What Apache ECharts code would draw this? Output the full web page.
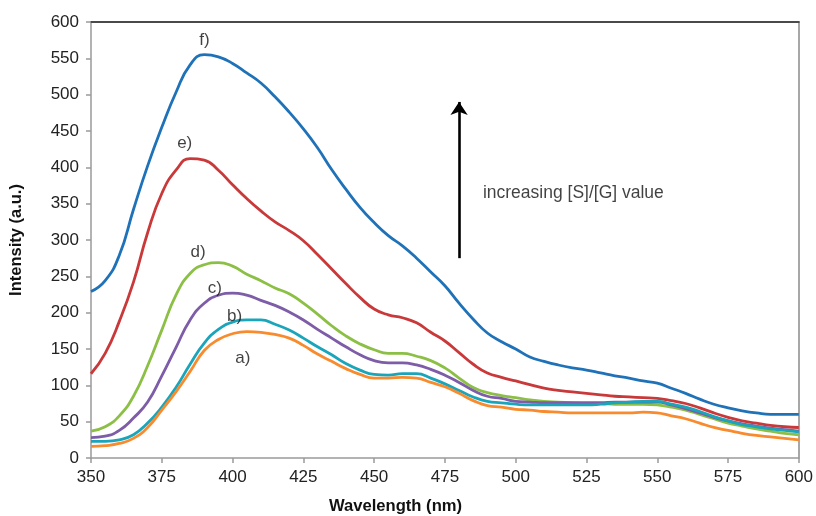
<!DOCTYPE html>
<html><head><meta charset="utf-8">
<script src="https://cdn.jsdelivr.net/npm/echarts@6/dist/echarts.min.js"></script>
<style>html,body{margin:0;padding:0;background:#fff}#c{width:816px;height:516px}</style>
</head><body><div id="c"></div>
<script>
const wavelengths = [350,355,360,365,370,375,380,385,390,395,400,405,410,415,420,425,430,435,440,445,450,455,460,465,470,475,480,485,490,495,500,505,510,515,520,525,530,535,540,545,550,555,560,565,570,575,580,585,590,595,600];
const seriesA = [16,17,20,27,42,66,91,119,148,163, 171,174,173,170,165,155,143,133,123,115, 110,110,111,110,104,98,89,79,72,70, 67,66,64,63,62,62,62,62,62,63, 62,58,54,48,42,38,34,31,29,27, 25];
const seriesB = [23,23,25,32,48,70,97,129,158,177, 187,190,190,184,176,165,153,142,130,121, 115,114,116,116,110,102,93,84,78,76, 74,73,73,73,73,73,74,76,77,78, 78,74,70,64,57,51,46,43,40,38, 36];
const seriesC = [28,30,38,55,77,113,152,190,213,224, 227,224,217,210,201,190,177,165,153,142, 134,131,131,128,122,114,104,93,85,82, 78,77,76,76,76,76,76,77,77,77, 77,73,68,62,56,51,47,44,41,39, 37];
const seriesD = [37,43,58,85,127,176,224,254,266,269, 264,253,244,234,226,213,198,182,168,157, 149,144,144,140,134,124,110,97,90,86, 83,80,78,77,76,75,75,74,74,74, 73,70,66,60,54,48,44,40,37,34, 32];
const seriesE = [116,144,188,242,310,364,396,412,410,396, 376,357,340,325,313,299,280,260,240,221, 205,197,193,186,173,161,145,129,117,111, 106,101,96,93,91,89,87,85,84,83, 82,79,75,69,62,56,51,48,45,43, 42];
const seriesF = [229,244,279,342,402,455,503,541,555,552, 543,530,516,497,476,453,427,397,370,345, 324,306,292,275,256,237,213,191,172,160, 150,139,133,128,124,121,117,113,110,106, 103,96,89,81,74,69,65,62,60,60, 60];
const curveNames = ['f)','e)','d)','c)','b)','a)'];
const labelX = [390.1, 383.1, 387.8, 393.7, 400.7, 403.6];
const labelY = [575, 433, 282.5, 233.5, 194.5, 137];
const arrowX = 480, arrowFrom = 275, arrowTo = 490;
const noteText = 'increasing [S]/[G] value';
const noteX = 488.4, noteY = 365;
const yTicks = {min:0, max:600, step:50};
const xTicks = {min:350, max:600, step:25};

const colors = ['#1f72b8','#c9393a','#8cbf45','#7d5ca8','#1aa5ba','#f78b2d'];
const allSeries = [seriesF, seriesE, seriesD, seriesC, seriesB, seriesA];
const font = '"Liberation Sans", Arial, sans-serif';

const series = allSeries.map((vals, i) => ({
  type: 'line', name: curveNames[i], smooth: 0.5, showSymbol: false, symbol: 'none',
  data: wavelengths.map((w, k) => [w, vals[k]]),
  lineStyle: {color: colors[i], width: 2.8}, itemStyle: {color: colors[i]},
  silent: true, z: 2 + i
}));
series.push({
  type: 'scatter', symbolSize: 0.1, itemStyle: {color: 'transparent'}, silent: true, z: 20,
  data: curveNames.map((n, i) => [labelX[i], labelY[i], n]),
  label: {show: true, position: 'inside', formatter: p => p.value[2], color: '#111', fontSize: 17, fontFamily: font}
});
series.push({
  type: 'scatter', symbolSize: 0.1, itemStyle: {color: 'transparent'}, silent: true, z: 20,
  data: [[noteX, noteY, noteText]],
  label: {show: true, position: 'right', distance: 0, formatter: p => p.value[2], color: '#111', fontSize: 17.5, fontFamily: font},
  markLine: {
    silent: true, animation: false, symbol: ['none', 'arrow'], symbolSize: 13,
    label: {show: false},
    lineStyle: {color: '#000', width: 2.6, type: 'solid'},
    data: [[{coord: [arrowX, arrowFrom]}, {coord: [arrowX, arrowTo]}]]
  }
});

const chart = echarts.init(document.getElementById('c'), null, {renderer: 'canvas'});
chart.setOption({
  animation: false,
  backgroundColor: '#fff',
  grid: {left: 91, right: 15, top: 22, bottom: 58, containLabel: false},
  xAxis: [{
    type: 'value', min: xTicks.min, max: xTicks.max, interval: xTicks.step,
    axisLine: {show: true, onZero: false, lineStyle: {color: '#9a9a9a', width: 1.5}},
    axisTick: {show: true, inside: false, length: 5, lineStyle: {color: '#9a9a9a', width: 1.5}},
    splitLine: {show: false},
    axisLabel: {color: '#222', fontSize: 17, fontFamily: font, margin: 11}
  }, {
    type: 'value', position: 'top', min: xTicks.min, max: xTicks.max,
    axisLine: {show: true, onZero: false, lineStyle: {color: '#4a4a4a', width: 2}},
    axisTick: {show: false}, axisLabel: {show: false}, splitLine: {show: false}
  }],
  yAxis: [{
    type: 'value', min: yTicks.min, max: yTicks.max, interval: yTicks.step,
    name: 'Intensity (a.u.)', nameLocation: 'middle', nameGap: 66,
    nameTextStyle: {fontSize: 16.5, fontWeight: 'bold', color: '#111', fontFamily: font},
    axisLine: {show: true, onZero: false, lineStyle: {color: '#9a9a9a', width: 1.5}},
    axisTick: {show: true, inside: false, length: 5, lineStyle: {color: '#9a9a9a', width: 1.5}},
    splitLine: {show: false},
    axisLabel: {color: '#222', fontSize: 17, fontFamily: font, margin: 12}
  }, {
    type: 'value', position: 'right', min: yTicks.min, max: yTicks.max,
    axisLine: {show: true, onZero: false, lineStyle: {color: '#8a8a8a', width: 1.5}},
    axisTick: {show: false}, axisLabel: {show: false}, splitLine: {show: false}
  }],
  graphic: [{
    type: 'text', left: 329, top: 498, silent: true,
    style: {text: 'Wavelength (nm)', fontSize: 16.6, fontWeight: 'bold', fill: '#111', fontFamily: font}
  }],
  series: series
});
</script>
</body></html>
